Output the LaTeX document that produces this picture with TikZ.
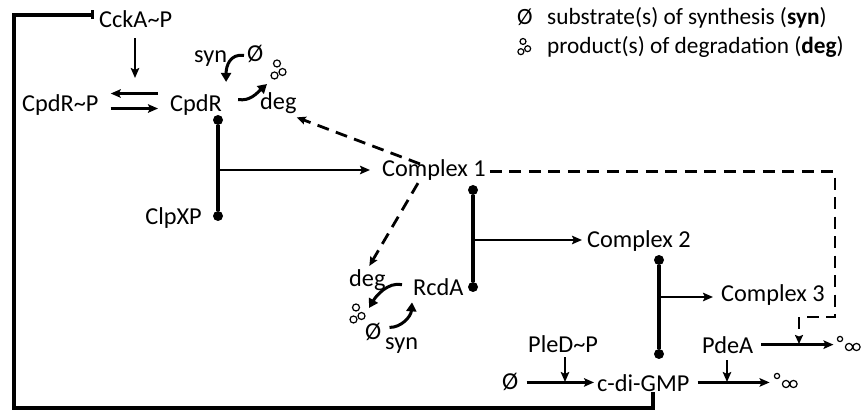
\documentclass[tikz,border=0pt]{standalone}
\usepackage{fontspec}
\setmainfont{Carlito}
\usetikzlibrary{arrows.meta,calc}

\tikzset{
  lbl/.style={inner sep=0pt, anchor=base west, font=\fontsize{24.3}{28}\selectfont},
  leg/.style={inner sep=0pt, anchor=base west, font=\fontsize{23.3}{28}\selectfont},
  arr/.style={line width=2.6pt, -{Stealth[length=10pt,width=8.5pt,inset=2pt]}},
  barline/.style={line width=3.8pt},
  dotnode/.style={fill, circle, inner sep=0pt, minimum size=10pt},
  dashlink/.style={line width=2.8pt, dash pattern=on 12pt off 7.5pt,
                   -{Stealth[length=9pt,width=8pt,inset=1.5pt]}},
  curvarr/.style={line width=3pt, -{Triangle[length=9pt,width=10pt]}},
  fbline/.style={line width=3.2pt},
  prodtri/.pic={
    \draw[line width=1.2pt] (0,-6.5) circle[radius=3.5pt]
                            (5.5,2)  circle[radius=3.5pt]
                            (-2.5,5.5) circle[radius=3.5pt];
  },
  prodrow/.pic={
    \draw[line width=1.2pt] (0,0)    circle[radius=2.6pt]
                            (9,8)    circle[radius=3.6pt]
                            (16.5,8) circle[radius=3.6pt];
  }
}

\begin{document}
\begin{tikzpicture}[x=1pt,y=-1pt]
\useasboundingbox (0,0) rectangle (868,411);

% ---- species and labels ----
\node[lbl] (cckap) at (99,28) {CckA\textasciitilde P};
\node[lbl] (cpdrp) at (22,112) {CpdR\textasciitilde P};
\node[lbl] (cpdr) at (170,112) {CpdR};
\node[lbl] (synA) at (194,63) {syn};
\node[lbl] (phiA) at (247,62) {Ø};
\node[lbl] (degA) at (260,110) {deg};
\pic at (277,70) {prodtri};

\node[lbl] (cplx1) at (382,177) {Complex 1};
\node[lbl, anchor=base east] (clpxp) at (202,225) {ClpXP};
\node[lbl] (cplx2) at (587,248) {Complex 2};
\node[lbl] (cplx3) at (721,302) {Complex 3};

\node[lbl] (degB) at (349,287) {deg};
\node[lbl] (rcda) at (413,296) {RcdA};
\node[lbl] (phiB) at (365,340) {Ø};
\node[lbl] (synB) at (385,350) {syn};
\pic at (356,314) {prodtri};

\node[lbl] (pled) at (528,353) {PleD\textasciitilde P};
\node[lbl] (pdea) at (702,354) {PdeA};
\node[lbl] (cdigmp) at (597,392) {c-di-GMP};
\node[lbl] (phiC) at (502,390) {Ø};
\pic at (777,376) {prodrow};
\pic at (840,339) {prodrow};

% ---- legend ----
\node[leg] (phiL) at (517,25) {Ø};
\node[leg] (legsyn) at (547,25) {substrate(s) of synthesis (\textbf{syn})};
\pic[scale=0.85] at (523,47) {prodtri};
\node[leg] (legdeg) at (547,54) {product(s) of degradation (\textbf{deg})};

% ---- junction points ----
\node[dotnode] (dA1) at (218,120) {};
\node[dotnode] (dA2) at (218,216) {};
\coordinate (jA) at (218,170);
\node[dotnode] (dB1) at (473,190) {};
\node[dotnode] (dB2) at (473,287) {};
\coordinate (jB) at (473,240);
\node[dotnode] (dC1) at (659,260) {};
\node[dotnode] (dC2) at (659,354) {};
\coordinate (jC) at (659,297);

\coordinate (eqtop) at (135,78);
\coordinate (synth) at (565,382);
\coordinate (degr) at (727,382);
\coordinate (pdeahit) at (799,344);
\coordinate (dk1) at (835,317);
\coordinate (dk2) at (799,317);
\coordinate (fbA) at (653,408);
\coordinate (fbB) at (14,408);
\coordinate (fbC) at (14,15);

% ---- phosphorylation ----
\draw[arr] ($(cckap.south -| eqtop)+(0,10)$) -- (eqtop);
\draw[arr] ($(cpdr.west)+(-12,-12)$) -- ($(cpdrp.east)+(12,-12) $);
\draw[arr] ($(cpdrp.east)+(12,3)$) -- ($(cpdr.west)+(-12,3)$);

% ---- synthesis / degradation of CpdR and RcdA ----
\draw[curvarr] ($(phiA.west)+(-3,1)$) .. controls +(-14,-2) and +(0,-16) .. ($(cpdr.north east)+(4,-13)$);
\draw[curvarr] ($(cpdr.east)+(16,-6)$) .. controls +(12,2) and +(-10,9) .. (267,84);
\draw[curvarr] ($(rcda.west)+(-11,-3)$) .. controls +(-14,-3) and +(7,-12) .. (369,308);
\draw[curvarr] ($(phiB.east)+(8,-5)$) .. controls +(12,0) and +(-1,14) .. ($(rcda.south west)+(-1,6)$);

% ---- complex formation ----
\draw[barline] (dA1) -- (dA2);
\draw[arr] (jA) -- ($(jA -| cplx1.west)+(-12,0)$);
\draw[barline] (dB1) -- (dB2);
\draw[arr] (jB) -- ($(jB -| cplx2.west)+(-5,0)$);
\draw[barline] (dC1) -- (dC2);
\draw[arr] (jC) -- ($(jC -| cplx3.west)+(-8,0)$);

% ---- degradation by Complex 1 ----
\draw[dashlink] ($(cplx1.north)+(-14,4)$) -- ($(degA.south east)+(0,3)$);
\draw[dashlink] ($(cplx1.south)+(-16,2)$) -- ($(degB.north)+(2,-4)$);
\draw[dashlink] ($(cplx1.east)+(4,1)$) -| (dk1) -- (dk2) -- (pdeahit);

% ---- c-di-GMP turnover ----
\draw[arr] ($(phiC.east)+(8,0)$) -- ($(phiC.east -| cdigmp.west)+(-3,0)$);
\draw[arr, shorten <=4pt] (pled.south -| synth) -- (synth);
\draw[arr] (cdigmp.east |- phiC.east) ++(8,0) -- ++(72,0);
\draw[arr, shorten <=6pt] (pdea.south -| degr) -- (degr);
\draw[arr] (pdea.east) ++(8,-1) -- ++(72,0);

% ---- feedback of c-di-GMP on CckA~P ----
\draw[fbline, -{Bar[width=9pt,line width=3pt]}, shorten >=5pt]
  (cdigmp.south -| fbA) -- (fbA) -- (fbB) -- (fbC) -- (fbC -| cckap.west);
\end{tikzpicture}
\end{document}
